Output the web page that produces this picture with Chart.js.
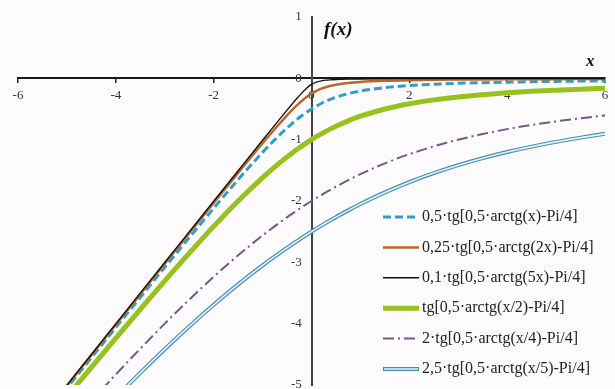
<!DOCTYPE html>
<html>
<head>
<meta charset="utf-8">
<script src="https://cdn.jsdelivr.net/npm/chart.js@4"></script>
<style>
    html, body { margin: 0; padding: 0; background: #fdfbfc; }
    #wrap { width: 615px; height: 389px; position: relative; }
</style>
</head>
<body>
<div id="wrap"><canvas id="fx-chart"></canvas></div>
<script>
// 가로축 값 (원점 근처는 촘촘하게)
const xs = [-6, -5.5, -5, -4.5, -4, -3.5, -3, -2.5, -2, -1.5, -1, -0.75, -0.5, -0.4, -0.3, -0.2, -0.1,
    0, 0.1, 0.2, 0.3, 0.4, 0.5, 0.75, 1, 1.5, 2, 2.5, 3, 3.5, 4, 4.5, 5, 5.5, 6];

const yHalf = [-6.041, -5.545, -5.050, -4.555, -4.062, -3.570, -3.081, -2.596, -2.118, -1.651, -1.207, -1.000, -0.809, -0.739, -0.672, -0.610, -0.553,
    -0.500, -0.453, -0.410, -0.372, -0.339, -0.309, -0.250, -0.207, -0.151, -0.118, -0.096, -0.081, -0.070, -0.062, -0.055, -0.050, -0.045, -0.041];
const yQuarter = [-6.010, -5.511, -5.013, -4.514, -4.016, -3.518, -3.021, -2.525, -2.031, -1.541, -1.059, -0.826, -0.604, -0.520, -0.442, -0.369, -0.305,
    -0.250, -0.205, -0.169, -0.142, -0.120, -0.104, -0.076, -0.059, -0.041, -0.031, -0.025, -0.021, -0.018, -0.016, -0.014, -0.013, -0.011, -0.010];
const yTenth = [-6.002, -5.502, -5.002, -4.502, -4.003, -3.503, -3.003, -2.504, -2.005, -1.507, -1.010, -0.763, -0.519, -0.424, -0.330, -0.241, -0.162,
    -0.100, -0.062, -0.041, -0.030, -0.024, -0.019, -0.013, -0.010, -0.007, -0.005, -0.004, -0.003, -0.003, -0.003, -0.002, -0.002, -0.002, -0.002];
const yOne = [-6.162, -5.676, -5.193, -4.712, -4.236, -3.766, -3.303, -2.851, -2.414, -2.000, -1.618, -1.443, -1.281, -1.220, -1.161, -1.105, -1.051,
    -1.000, -0.951, -0.905, -0.861, -0.820, -0.781, -0.693, -0.618, -0.500, -0.414, -0.351, -0.303, -0.266, -0.236, -0.212, -0.193, -0.176, -0.162];
const yTwo = [-6.606, -6.150, -5.702, -5.260, -4.828, -4.408, -4.000, -3.609, -3.236, -2.886, -2.562, -2.410, -2.266, -2.210, -2.156, -2.103, -2.051,
    -2.000, -1.951, -1.903, -1.856, -1.810, -1.766, -1.660, -1.562, -1.386, -1.236, -1.109, -1.000, -0.908, -0.828, -0.760, -0.702, -0.650, -0.606];
const yTwoHalf = [-6.905, -6.467, -6.036, -5.613, -5.202, -4.802, -4.416, -4.045, -3.693, -3.360, -3.050, -2.903, -2.763, -2.708, -2.655, -2.602, -2.551,
    -2.500, -2.451, -2.402, -2.355, -2.308, -2.263, -2.153, -2.050, -1.860, -1.693, -1.545, -1.416, -1.302, -1.202, -1.113, -1.036, -0.967, -0.905];

const labels = [
    '0,5·tg[0,5·arctg(x)-Pi/4]',
    '0,25·tg[0,5·arctg(2x)-Pi/4]',
    '0,1·tg[0,5·arctg(5x)-Pi/4]',
    'tg[0,5·arctg(x/2)-Pi/4]',
    '2·tg[0,5·arctg(x/4)-Pi/4]',
    '2,5·tg[0,5·arctg(x/5)-Pi/4]'
];
const xTicks = [-6, -4, -2, 0, 2, 4, 6];
const yTicks = [1, 0, -1, -2, -3, -4, -5];

const SERIF = '"Liberation Serif", "DejaVu Serif", serif';

// 선 스타일: 색, 두께, 점선 패턴
const styles = [
    { color: '#2e9fc8', width: 3, dash: [8, 4] },
    { color: '#b9672f', width: 2.5, dash: [] },
    { color: '#111111', width: 1.4, dash: [] },
    { color: '#97c11c', width: 5, dash: [] },
    { color: '#6f5a88', width: 2, dash: [11, 4, 2, 4] },
    { color: '#4a8db2', width: 4, dash: [], inner: '#e4f5fb' }
];

const seriesList = [yHalf, yQuarter, yTenth, yOne, yTwo, yTwoHalf];

function toPoints(ys) {
    return xs.map((x, i) => ({ x, y: ys[i] }));
}

const datasets = [];
seriesList.forEach((ys, i) => {
    const s = styles[i];
    datasets.push({
        label: labels[i],
        data: toPoints(ys),
        borderColor: s.color,
        borderWidth: s.width,
        borderDash: s.dash,
        pointRadius: 0,
        cubicInterpolationMode: 'monotone',
        order: 10 - i
    });
    if (s.inner) {
        // 이중선: 굵은 선 위에 밝은 가는 선
        datasets.push({
            label: labels[i] + ' (inner)',
            data: toPoints(ys),
            borderColor: s.inner,
            borderWidth: 1.6,
            pointRadius: 0,
            cubicInterpolationMode: 'monotone',
            order: 0
        });
    }
});

// 범례와 축 제목을 캔버스에 직접 그림
const overlayPlugin = {
    id: 'overlay',
    afterDraw(chart) {
        const ctx = chart.ctx;
        ctx.save();

        ctx.fillStyle = '#111';
        ctx.textBaseline = 'middle';
        ctx.textAlign = 'left';
        ctx.font = 'italic bold 19px ' + SERIF;
        ctx.fillText('f(x)', 324, 30);
        ctx.font = 'italic bold 17px ' + SERIF;
        ctx.fillText('x', 586, 62);

        const rowTop = 217, rowGap = 30.4;
        const x0 = 383, x1 = 419;
        styles.forEach((s, i) => {
            const y = rowTop + i * rowGap;
            ctx.beginPath();
            ctx.setLineDash(s.dash);
            ctx.strokeStyle = s.color;
            ctx.lineWidth = s.width;
            ctx.moveTo(x0, y);
            ctx.lineTo(x1, y);
            ctx.stroke();
            if (s.inner) {
                ctx.beginPath();
                ctx.strokeStyle = s.inner;
                ctx.lineWidth = 1.6;
                ctx.moveTo(x0 + 1, y);
                ctx.lineTo(x1 - 1, y);
                ctx.stroke();
            }
            ctx.setLineDash([]);
            ctx.fillStyle = '#222';
            ctx.font = '16px ' + SERIF;
            ctx.fillText(labels[i], 422, y);
        });
        ctx.restore();
    }
};

new Chart(document.getElementById('fx-chart').getContext('2d'), {
    type: 'line',
    data: { datasets },
    options: {
        responsive: true,
        maintainAspectRatio: false,
        animation: false,
        layout: { padding: { left: 18, right: 10, top: 17, bottom: 4 } },
        plugins: {
            legend: { display: false },
            tooltip: { enabled: false }
        },
        scales: {
            x: {
                type: 'linear',
                min: -6,
                max: 6,
                position: { y: 0 },
                afterBuildTicks: (axis) => { axis.ticks = xTicks.map(v => ({ value: v })); },
                ticks: {
                    color: '#333',
                    font: { family: SERIF, size: 13 },
                    padding: 5,
                    maxRotation: 0
                },
                grid: { drawOnChartArea: false, drawTicks: true, tickLength: 4, color: '#222', lineWidth: 1.5 },
                border: { display: true, color: '#1a1a1a', width: 2 }
            },
            y: {
                type: 'linear',
                min: -5,
                max: 1,
                position: { x: 0 },
                z: 1,
                afterBuildTicks: (axis) => { axis.ticks = yTicks.map(v => ({ value: v })); },
                // 눈금 글자가 위아래 여백을 늘리지 않도록
                afterFit: (axis) => { axis.paddingTop = 0; axis.paddingBottom = 0; },
                ticks: {
                    color: '#333',
                    font: { family: SERIF, size: 13 },
                    padding: 0,
                    // 가운데 축에서는 padding이 먹지 않아 뒤에 공백을 붙여 띄움
                    callback: (v) => v + '   '
                },
                grid: { drawOnChartArea: false, drawTicks: false },
                border: { display: true, color: '#444', width: 2 }
            }
        }
    },
    plugins: [overlayPlugin]
});
</script>
</body>
</html>
